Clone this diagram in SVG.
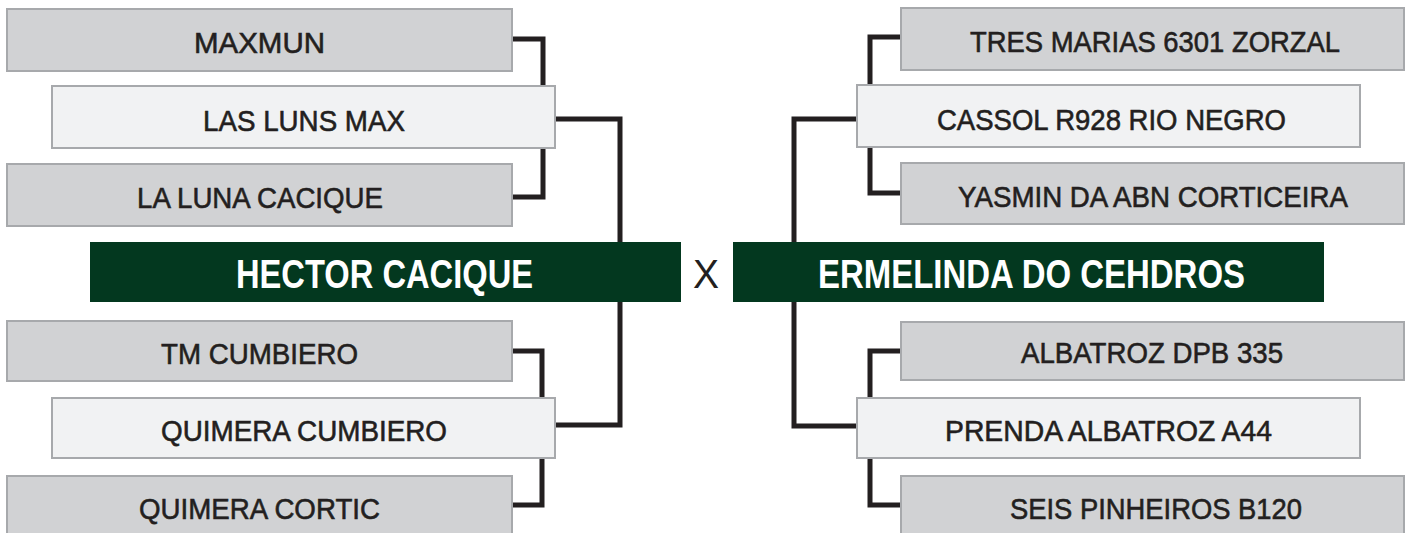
<svg xmlns="http://www.w3.org/2000/svg" width="1411" height="533" viewBox="0 0 1411 533">
  <style>
    .g { fill: #d1d2d4; stroke: #a7a9ac; stroke-width: 2; }
    .l { fill: #f1f2f3; stroke: #a7a9ac; stroke-width: 2; }
    .w { fill: #03381f; }
    .t { font-family: "Liberation Sans", Arial, sans-serif; font-size: 30px; fill: #231f20; stroke: #231f20; stroke-width: 0.6; text-anchor: middle; }
    .b { font-family: "Liberation Sans", Arial, sans-serif; font-size: 40px; font-weight: bold; fill: #ffffff; text-anchor: middle; }
    .c { fill: none; stroke: #231f20; stroke-width: 5; stroke-linejoin: miter; }
  </style>
  <rect width="1411" height="533" fill="#ffffff"/>
  <g id="connectors">
    <path class="c" d="M510 39 H543 V197 H510"/>
    <path class="c" d="M553 119 H620 V425 H553"/>
    <path class="c" d="M510 351 H542 V505 H510"/>
    <path class="c" d="M903 37 H870 V193 H903"/>
    <path class="c" d="M859 119 H794 V426 H859"/>
    <path class="c" d="M903 351 H870 V505 H903"/>
  </g>
  <g id="maxmun">
    <rect class="g" x="7" y="9" width="505" height="62"/>
    <text class="t" x="259.5" y="52.5" textLength="131" lengthAdjust="spacingAndGlyphs">MAXMUN</text>
  </g>
  <g id="las-luns-max">
    <rect class="l" x="52" y="86" width="503" height="62"/>
    <text class="t" x="304" y="130.5" textLength="202" lengthAdjust="spacingAndGlyphs">LAS LUNS MAX</text>
  </g>
  <g id="la-luna-cacique">
    <rect class="g" x="7" y="164" width="505" height="62"/>
    <text class="t" x="260" y="208" textLength="246" lengthAdjust="spacingAndGlyphs">LA LUNA CACIQUE</text>
  </g>
  <g id="hector-cacique">
    <rect class="w" x="90" y="242" width="591" height="60"/>
    <text class="b" x="384.5" y="288" textLength="297" lengthAdjust="spacingAndGlyphs">HECTOR CACIQUE</text>
  </g>
  <g id="tm-cumbiero">
    <rect class="g" x="7" y="321" width="505" height="60"/>
    <text class="t" x="259.5" y="363.5" textLength="197" lengthAdjust="spacingAndGlyphs">TM CUMBIERO</text>
  </g>
  <g id="quimera-cumbiero">
    <rect class="l" x="52" y="398" width="503" height="60"/>
    <text class="t" x="304" y="441" textLength="286" lengthAdjust="spacingAndGlyphs">QUIMERA CUMBIERO</text>
  </g>
  <g id="quimera-cortic">
    <rect class="g" x="7" y="476" width="505" height="66"/>
    <text class="t" x="259.5" y="518.5" textLength="241" lengthAdjust="spacingAndGlyphs">QUIMERA CORTIC</text>
  </g>
  <g id="versus">
    <text x="706" y="288" font-family="Liberation Sans, Arial, sans-serif" font-size="40" fill="#231f20" text-anchor="middle" textLength="26" lengthAdjust="spacingAndGlyphs">X</text>
  </g>
  <g id="tres-marias">
    <rect class="g" x="901" y="8" width="503" height="62"/>
    <text class="t" x="1155" y="52" textLength="370" lengthAdjust="spacingAndGlyphs">TRES MARIAS 6301 ZORZAL</text>
  </g>
  <g id="cassol">
    <rect class="l" x="857" y="85" width="503" height="62"/>
    <text class="t" x="1111.5" y="129.5" textLength="349" lengthAdjust="spacingAndGlyphs">CASSOL R928 RIO NEGRO</text>
  </g>
  <g id="yasmin">
    <rect class="g" x="901" y="163" width="503" height="61"/>
    <text class="t" x="1153" y="207" textLength="390" lengthAdjust="spacingAndGlyphs">YASMIN DA ABN CORTICEIRA</text>
  </g>
  <g id="ermelinda">
    <rect class="w" x="733" y="242" width="591" height="60"/>
    <text class="b" x="1031.5" y="288" textLength="427" lengthAdjust="spacingAndGlyphs">ERMELINDA DO CEHDROS</text>
  </g>
  <g id="albatroz">
    <rect class="g" x="901" y="322" width="503" height="58"/>
    <text class="t" x="1152" y="363" textLength="262" lengthAdjust="spacingAndGlyphs">ALBATROZ DPB 335</text>
  </g>
  <g id="prenda">
    <rect class="l" x="857" y="398" width="503" height="60"/>
    <text class="t" x="1108.5" y="441" textLength="327" lengthAdjust="spacingAndGlyphs">PRENDA ALBATROZ A44</text>
  </g>
  <g id="seis-pinheiros">
    <rect class="g" x="901" y="476" width="503" height="66"/>
    <text class="t" x="1156" y="518.5" textLength="292" lengthAdjust="spacingAndGlyphs">SEIS PINHEIROS B120</text>
  </g>
</svg>
